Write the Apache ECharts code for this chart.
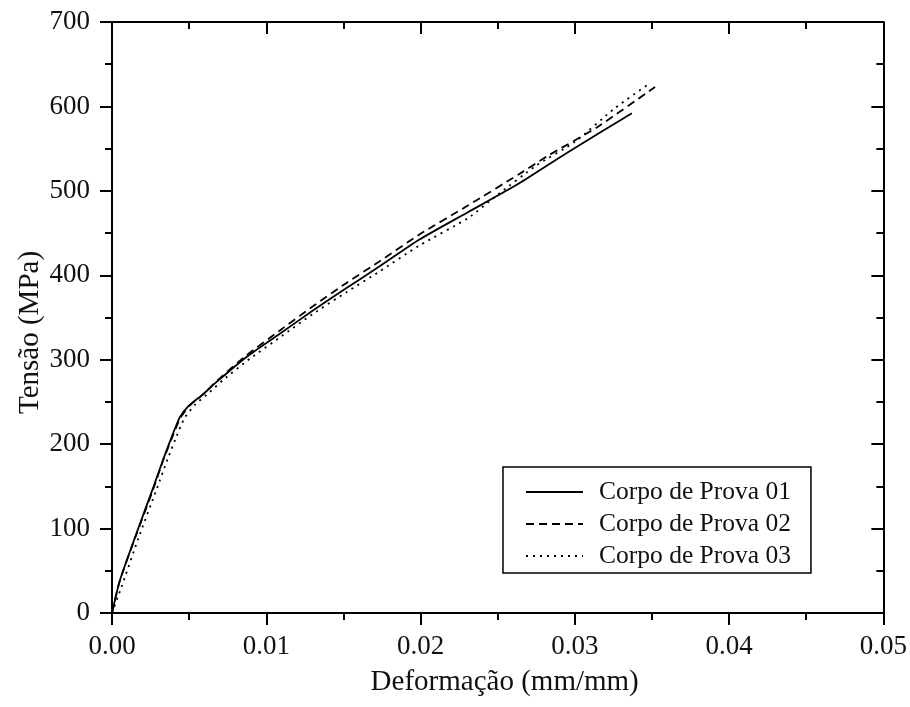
<!DOCTYPE html>
<html>
<head>
<meta charset="utf-8">
<script src="https://cdn.jsdelivr.net/npm/echarts@6/dist/echarts.min.js"></script>
<style>
  html, body { margin: 0; padding: 0; background: #fff; }
  #chart { width: 910px; height: 707px; }
</style>
</head>
<body>
<div id="chart"></div>
<script>
// curvas tensão x deformação
const seriesNames = ['Corpo de Prova 01', 'Corpo de Prova 02', 'Corpo de Prova 03']

const cp01 = [
  [0, 0], [0.0005, 38], [0.0015, 90], [0.0027, 150], [0.0033, 181], [0.0039, 210],
  [0.0044, 232], [0.0050, 246], [0.0059, 259], [0.0068, 274], [0.0087, 303],
  [0.0109, 331], [0.0130, 358], [0.0152, 385], [0.0173, 410], [0.0199, 442],
  [0.0231, 475], [0.0264, 509], [0.0294, 544], [0.0337, 592]
]

const cp02 = [
  [0, 0], [0.0005, 38], [0.0015, 89], [0.0027, 148], [0.0033, 180], [0.0039, 208],
  [0.0044, 230], [0.0050, 245], [0.0059, 259], [0.0068, 275], [0.0087, 305],
  [0.0109, 335], [0.0130, 363], [0.0152, 391], [0.0173, 416], [0.0199, 448],
  [0.0231, 483], [0.0264, 520], [0.0283, 542], [0.0315, 576], [0.0352, 623]
]

const cp03 = [
  [0, 0], [0.0006, 30], [0.0017, 88], [0.0029, 147], [0.0036, 182], [0.0042, 210],
  [0.0047, 231], [0.0054, 247], [0.0063, 261], [0.0072, 276], [0.0090, 302],
  [0.0110, 328], [0.0130, 354], [0.0152, 380], [0.0173, 404], [0.0199, 435],
  [0.0231, 468], [0.0249, 494], [0.0275, 530], [0.0300, 558], [0.0326, 598],
  [0.0349, 628]
]

const xTicks = { min: 0, max: 0.05, interval: 0.01 }
const yTicks = { min: 0, max: 700, interval: 100 }

const fontFamily = '"Liberation Serif", "DejaVu Serif", serif'
const chart = echarts.init(document.getElementById('chart'))

// eixo espelho (topo / direita) com ticks para dentro
function mirrorAxis (pos, t) {
  return {
    type: 'value',
    position: pos,
    min: t.min, max: t.max, interval: t.interval,
    axisLine: { show: true, onZero: false, lineStyle: { color: '#000', width: 2 } },
    axisTick: { show: true, inside: true, length: 12, lineStyle: { color: '#000', width: 2 } },
    minorTick: { show: true, splitNumber: 2, length: 7, lineStyle: { color: '#000', width: 2 } },
    axisLabel: { show: false },
    splitLine: { show: false }
  }
}

function lineSeries (name, data, type) {
  return {
    name: name,
    type: 'line',
    data: data,
    symbol: 'none',
    smooth: 0.2,
    lineStyle: { color: '#000', width: 1.8, type: type },
    itemStyle: { color: '#000' },
    emphasis: { disabled: true }
  }
}

const option = {
  animation: false,
  backgroundColor: '#fff',
  grid: { left: 112, right: 24, top: 22, bottom: 94 },
  legend: {
    data: seriesNames,
    orient: 'vertical',
    left: 503,
    top: 467,
    backgroundColor: '#fff',
    borderColor: '#000',
    borderWidth: 1.5,
    padding: [12, 20, 4, 22],
    itemWidth: 57,
    itemHeight: 26,
    itemGap: 6,
    itemStyle: { opacity: 0 },
    textStyle: { fontFamily: fontFamily, fontSize: 25.5, color: '#111', padding: [0, 0, 0, 11] }
  },
  xAxis: [
    {
      type: 'value',
      name: 'Deformação (mm/mm)',
      nameLocation: 'middle',
      nameGap: 55,
      nameMoveOverlap: false,
      nameTextStyle: { fontFamily: fontFamily, fontSize: 29, color: '#111', padding: [0, 0, 0, 14] },
      min: xTicks.min, max: xTicks.max, interval: xTicks.interval,
      axisLine: { show: true, onZero: false, lineStyle: { color: '#000', width: 2 } },
      axisTick: { show: true, length: 12, lineStyle: { color: '#000', width: 2 } },
      minorTick: { show: true, splitNumber: 2, length: 7, lineStyle: { color: '#000', width: 2 } },
      axisLabel: {
        margin: 20,
        fontFamily: fontFamily, fontSize: 27, color: '#111',
        formatter: v => v.toFixed(2)
      },
      splitLine: { show: false }
    },
    mirrorAxis('top', xTicks)
  ],
  yAxis: [
    {
      type: 'value',
      name: 'Tensão (MPa)',
      nameLocation: 'middle',
      nameGap: 67,
      nameMoveOverlap: false,
      nameTextStyle: { fontFamily: fontFamily, fontSize: 29, color: '#111', padding: [0, 30, 0, 0] },
      min: yTicks.min, max: yTicks.max, interval: yTicks.interval,
      axisLine: { show: true, onZero: false, lineStyle: { color: '#000', width: 2 } },
      axisTick: { show: true, length: 12, lineStyle: { color: '#000', width: 2 } },
      minorTick: { show: true, splitNumber: 2, length: 7, lineStyle: { color: '#000', width: 2 } },
      axisLabel: { margin: 22, fontFamily: fontFamily, fontSize: 27, color: '#111' },
      splitLine: { show: false }
    },
    mirrorAxis('right', yTicks)
  ],
  series: [
    lineSeries(seriesNames[0], cp01, 'solid'),
    lineSeries(seriesNames[1], cp02, [8, 5]),
    lineSeries(seriesNames[2], cp03, [2, 5])
  ]
}

chart.setOption(option)
</script>
</body>
</html>
